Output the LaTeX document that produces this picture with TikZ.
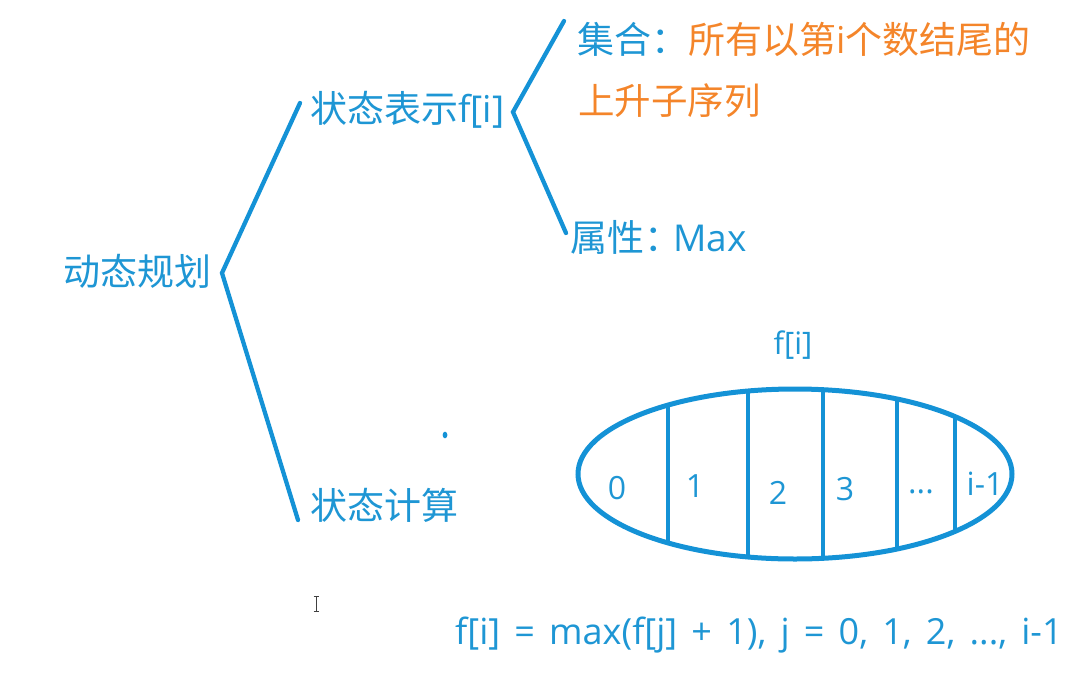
\documentclass[tikz,border=0pt]{standalone}
\usepackage{fontspec}
\setmainfont{Noto Sans CJK SC}
\newfontfamily\lat{Open Sans}
\usetikzlibrary{shapes.geometric}
\definecolor{lb}{HTML}{1492D6}
\definecolor{tb}{HTML}{1E96D4}
\definecolor{oc}{HTML}{F4852A}
\begin{document}
\begin{tikzpicture}[x=1pt,y=-1pt,
  txt/.style={inner sep=0pt, text=tb, font=\fontsize{37}{42}\selectfont},
  ln/.style={draw=lb, line width=4.3pt, line cap=round},
  cell/.style={inner sep=0pt, text=tb, font=\lat\fontsize{32}{38}\selectfont}]
\useasboundingbox (0,0) rectangle (1080,697);
% texts
\node[txt, anchor=west] (dp) at (63,271) {动态规划};
\node[txt, anchor=west] (rep) at (310,110) {状态表示{\lat f[i]}};
\node[txt, anchor=west] (calc) at (310,505) {状态计算};
\node[txt, anchor=west, font=\fontsize{37}{40}\selectfont] (set) at (577,39) {集合：\textcolor{oc}{所有以第{\lat i}个数结尾的}};
\node[txt, anchor=west, text=oc, font=\fontsize{36.5}{40}\selectfont] (seq) at (578,101) {上升子序列};
\node[txt, anchor=west] (attr) at (570,237) {属性：\hspace{-8pt}{\lat Max}};
\node[txt, font=\lat\fontsize{31}{38}\selectfont] (fi) at (793,345) {f[i]};
\node[txt, font=\lat\fontsize{36}{40}\selectfont, anchor=west] (eq) at (455,635) {\spaceskip=0.395em\relax f[i] = max(f[j] + 1), j = 0, 1, 2, ..., i-1};
% bracket coordinates
\coordinate (b1t) at (300,103);
\coordinate (b1v) at (222,273);
\coordinate (b1b) at (298,520);
\coordinate (b2t) at (564,21);
\coordinate (b2v) at (513,112);
\coordinate (b2b) at (566,233);
\draw[ln, line join=miter] (b1t) -- (b1v) -- (b1b);
\draw[ln, line join=miter] (b2t) -- (b2v) -- (b2b);
% ellipse
\node[ellipse, draw=lb, line width=5pt, minimum width=434pt, minimum height=170pt, inner sep=0pt] (ell) at (795,474) {};
\begin{scope}
  \clip (795,474) ellipse [x radius=217pt, y radius=85pt];
  \foreach \xx in {668,748,823,897,955}
    \draw[draw=lb, line width=4pt] (\xx,380) -- (\xx,570);
\end{scope}
\node[cell] (c0) at (617,488) {0};
\node[cell] (c1) at (695,486) {1};
\node[cell] (c2) at (778,493) {2};
\node[cell] (c3) at (845,489) {3};
\node[cell] (c4) at (921,492) {...};
\node[cell] (c5) at (985,484) {i-1};
% small dot
\fill[lb] (445,435) ellipse [x radius=2.4pt, y radius=3.3pt];
% I-beam cursor
\draw[black!75, line width=0.9pt] (316,596) -- (316,611);
\draw[black!75, line width=0.9pt] (313.5,596) -- (318.5,596);
\draw[black!75, line width=0.9pt] (313.5,611) -- (318.5,611);
\end{tikzpicture}
\end{document}
